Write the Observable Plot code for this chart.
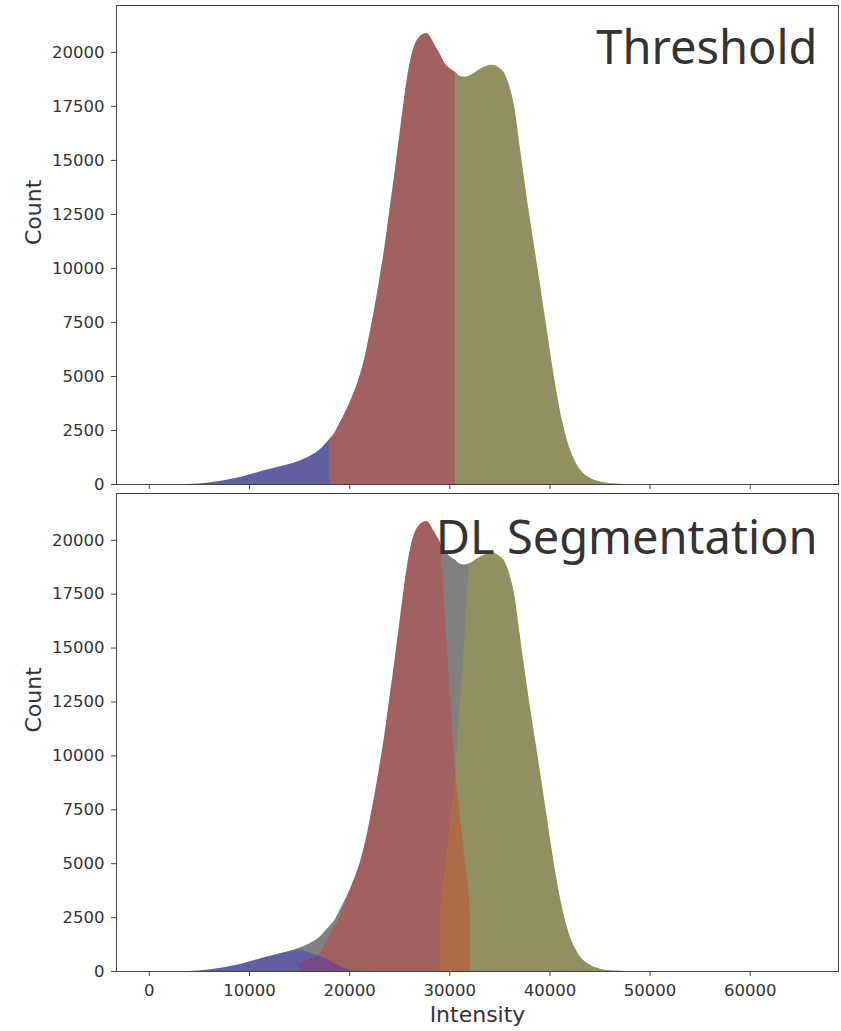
<!DOCTYPE html>
<html><head><meta charset="utf-8">
<script src="https://cdn.jsdelivr.net/npm/d3@7"></script>
<script src="https://cdn.jsdelivr.net/npm/@observablehq/plot@0.6"></script>
<style>
body{margin:0;background:#fff;}
#chart svg{display:block;}
</style></head><body><div id="chart"></div>
<script>
// Total histogram (Count vs Intensity)
const intensity = [0, 2000, 4000, 5000, 6000, 7000, 8000, 9000, 10000, 11000, 12000, 13000, 14000, 15000, 16000, 17000, 18060, 18500, 19000, 19500, 20000, 20500, 21000, 21500, 22000, 22500, 23000, 23500, 24000, 24500, 25000, 25500, 26000, 26500, 27000, 27700, 28500, 29050, 29500, 30000, 30550, 31000, 31500, 32050, 33000, 34200, 35000, 35500, 36000, 36500, 37000, 37500, 38000, 38500, 39000, 39500, 40000, 40500, 41000, 41500, 42000, 42500, 43000, 44000, 45000, 46000, 47000, 48000, 65535];
const count = [0, 0, 5, 25, 65, 140, 220, 310, 440, 570, 690, 810, 930, 1080, 1280, 1580, 2110, 2350, 2800, 3250, 3750, 4300, 4950, 5800, 6900, 8100, 9450, 10900, 12600, 14300, 16100, 17900, 19400, 20300, 20700, 20870, 20350, 19900, 19500, 19250, 19080, 18900, 18850, 18920, 19200, 19400, 19250, 19000, 18400, 17400, 15700, 14000, 12400, 10900, 9400, 7850, 6300, 4800, 3500, 2450, 1650, 1100, 700, 300, 110, 35, 10, 0, 0];
// Threshold cut points (top panel)
const thresholds = [18060, 30550];

// DL segmentation classes (bottom panel)
const blueX = [0, 2000, 4000, 5000, 6000, 7000, 8000, 9000, 10000, 11000, 12000, 13000, 14000, 14500, 15000, 16000, 17000, 18000, 18500, 19000, 20000, 21000, 22000];
const blueY = [0, 0, 5, 25, 65, 140, 220, 310, 440, 570, 690, 810, 930, 990, 1000, 860, 720, 500, 370, 250, 70, 10, 0];
const redX = [14990, 15000, 16000, 16900, 17900, 19230, 20000, 20500, 21000, 21500, 22000, 22500, 23000, 23500, 24000, 24500, 25000, 25500, 26000, 26500, 27000, 27700, 28500, 29050, 29500, 30000, 30550, 31000, 31500, 32050, 32060];
const redY = [0, 350, 550, 750, 1590, 2690, 3650, 4300, 4950, 5800, 6900, 8100, 9450, 10900, 12600, 14300, 16100, 17900, 19400, 20300, 20700, 20870, 20350, 19900, 16800, 13300, 9400, 7400, 5200, 2750, 0];
const oliveX = [29040, 29050, 29500, 30000, 30550, 31000, 31500, 32050, 33000, 34200, 35000, 35500, 36000, 36500, 37000, 37500, 38000, 38500, 39000, 39500, 40000, 40500, 41000, 41500, 42000, 42500, 43000, 44000, 45000, 46000, 47000, 48000];
const oliveY = [0, 2470, 4470, 6700, 9130, 12050, 15300, 18920, 19200, 19400, 19250, 19000, 18400, 17400, 15700, 14000, 12400, 10900, 9400, 7850, 6300, 4800, 3500, 2450, 1650, 1100, 700, 300, 110, 35, 10, 0];

const yTicks = [0, 2500, 5000, 7500, 10000, 12500, 15000, 17500, 20000];
const xTicks = [0, 10000, 20000, 30000, 40000, 50000, 60000];
const panelTitles = ["Threshold", "DL Segmentation"];
const xLabel = "Intensity";
const yLabel = "Count";

const total = intensity.map((x, i) => ({x, y: count[i]}));
const seg = (lo, hi) => total.filter(d => d.x >= lo && d.x <= hi);
const pts = (X, Y) => X.map((x, i) => ({x, y: Y[i]}));

const xDomain = [-3277, 68812];
const yDomain = [0, 22170];
const tickFont = "DejaVu Sans";
const axisColor = "#444";
const curve = "monotone-x";

function common(titleIdx, dyTitle) {
  return [
    Plot.axisY({ticks: yTicks, tickSize: 5, tickPadding: 7, tickFormat: d => String(d), label: null, fontSize: 16.5, fontFamily: tickFont, stroke: axisColor, fill: "#333"}),
    Plot.text([yLabel], {text: d => d, frameAnchor: "left", dx: -83, rotate: -90, fontSize: 22, fontFamily: tickFont, fill: "#333"}),
    Plot.frame({stroke: axisColor, strokeWidth: 1}),
    Plot.text([panelTitles[titleIdx]], {text: d => d, frameAnchor: "top-right", textAnchor: "end", lineAnchor: "bottom", dx: -21, dy: dyTitle, fontSize: 47, fontFamily: "Noto Sans", fill: "#333"})
  ];
}

const topPlot = Plot.plot({
  width: 841, height: 500,
  marginLeft: 116, marginRight: 3, marginTop: 5, marginBottom: 16,
  x: {domain: xDomain},
  y: {domain: yDomain},
  marks: [
    Plot.areaY(total, {x: "x", y: "y", fill: "#808080", curve}),
    Plot.areaY(seg(0, thresholds[0]), {x: "x", y: "y", fill: "#0000ff", fillOpacity: 0.25, curve}),
    Plot.areaY(seg(thresholds[0], thresholds[1]), {x: "x", y: "y", fill: "#ff0000", fillOpacity: 0.25, curve}),
    Plot.areaY(seg(thresholds[1], 65535), {x: "x", y: "y", fill: "#bfbf00", fillOpacity: 0.25, curve}),
    Plot.axisX({ticks: xTicks, tickSize: 5, tickFormat: () => "", label: null, stroke: axisColor}),
    ...common(0, 58)
  ]
});

const bottomPlot = Plot.plot({
  width: 841, height: 541,
  marginLeft: 116, marginRight: 3, marginTop: 3, marginBottom: 60,
  x: {domain: xDomain},
  y: {domain: yDomain},
  marks: [
    Plot.areaY(total, {x: "x", y: "y", fill: "#808080", curve}),
    Plot.areaY(pts(oliveX, oliveY), {x: "x", y: "y", fill: "#bfbf00", fillOpacity: 0.25, curve}),
    Plot.areaY(pts(redX, redY), {x: "x", y: "y", fill: "#ff0000", fillOpacity: 0.25, curve}),
    Plot.areaY(pts(blueX, blueY), {x: "x", y: "y", fill: "#0000ff", fillOpacity: 0.25, curve}),
    Plot.axisX({ticks: xTicks, tickSize: 5, tickPadding: 8, label: null, tickFormat: d => String(d), fontSize: 16.5, fontFamily: tickFont, stroke: axisColor, fill: "#333"}),
    Plot.text([xLabel], {text: d => d, frameAnchor: "bottom", lineAnchor: "bottom", dy: 50, fontSize: 22, fontFamily: tickFont, fill: "#333"}),
    ...common(1, 60)
  ]
});
bottomPlot.style.background = "transparent";
bottomPlot.style.marginTop = "-10px";

const el = document.getElementById("chart");
el.appendChild(topPlot);
el.appendChild(bottomPlot);
</script>
</body></html>
